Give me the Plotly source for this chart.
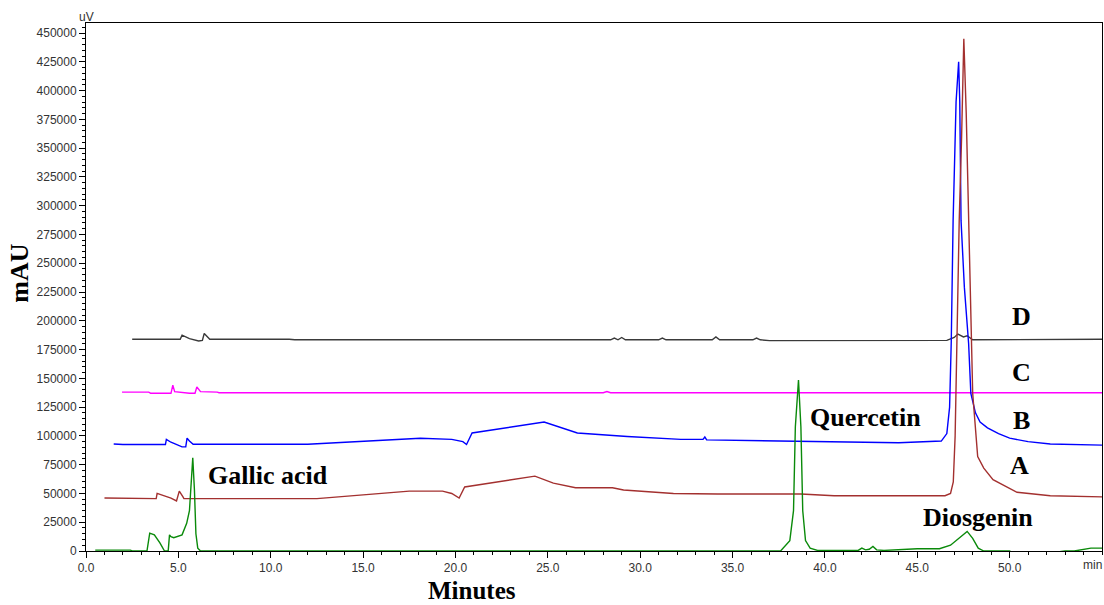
import plotly.graph_objects as go

# ---- data (minutes, uV) ----
D_t = [2.5, 5.1, 5.2, 5.6, 6.1, 6.3, 6.4, 6.7, 11.0, 11.3, 28.4, 28.6, 28.8, 29.0, 29.2,
       31.0, 31.2, 31.4, 33.9, 34.1, 34.3, 36.1, 36.3, 36.5, 37.0, 46.6, 47.0, 47.2, 47.5,
       47.7, 48.0, 55.0]
D_v = [184000, 184000, 187500, 184500, 182500, 183000, 189000, 184000, 184000, 183500, 183500,
       185000, 183500, 185500, 183500, 183500, 185000, 183500, 183500, 186000, 183500, 183500,
       185000, 183500, 182800, 183000, 185500, 188500, 186000, 187000, 183500, 184000]

C_t = [1.95, 3.4, 3.5, 4.6, 4.7, 4.8, 5.6, 5.9, 6.0, 6.2, 7.1, 7.2, 28.0, 28.2, 28.4,
       40.0, 55.0]
C_v = [138000, 138000, 137000, 137000, 144000, 138500, 137000, 137000, 142500, 138500,
       138000, 137500, 137500, 138500, 137500, 137500, 137500]

B_t = [1.5, 2.0, 4.3, 4.35, 4.6, 5.2, 5.4, 5.47, 5.6, 5.8, 12.0, 15.9, 18.1, 19.8, 20.4,
       20.6, 20.9, 24.8, 25.7, 26.6, 29.3, 30.7, 32.2, 33.4, 33.5, 33.6, 38.7, 44.0, 46.3,
       46.6, 46.75, 46.84, 46.94, 47.1, 47.24, 47.3, 47.37, 47.55, 47.78, 47.9, 48.15, 48.4,
       48.8, 49.4, 50.0, 51.0, 52.2, 55.0]
B_v = [93000, 92500, 92500, 97000, 94500, 90500, 90500, 98000, 95500, 92800, 92800, 96400,
       98000, 97000, 95000, 92500, 102500, 112000, 107000, 102500, 99500, 98500, 97000, 97000,
       99000, 96500, 95500, 94000, 95500, 102000, 125000, 182000, 287000, 390000, 425000,
       390000, 287000, 229000, 180000, 137000, 120000, 112000, 107000, 102000, 98000, 95000,
       93000, 92000]

A_t = [1.0, 2.9, 3.0, 3.8, 3.85, 4.1, 4.6, 4.9, 5.0, 5.05, 5.25, 5.3, 12.5, 15.9, 17.5,
       19.3, 19.8, 20.2, 20.5, 24.3, 25.3, 26.5, 28.5, 29.1, 30.0, 31.8, 34.2, 38.7, 40.5,
       46.5, 46.8, 46.95, 47.05, 47.13, 47.27, 47.4, 47.52, 47.65, 47.79, 47.85, 47.92, 48.0,
       48.27, 48.6, 49.1, 50.4, 52.2, 55.0]
A_v = [46000, 46000, 45500, 45500, 50000, 48500, 46000, 43500, 50000, 52000, 47000, 45500,
       45500, 49500, 52000, 52000, 50000, 46000, 55600, 65000, 59000, 55000, 55000, 53000,
       52000, 50000, 49500, 49500, 48000, 48000, 50000, 60000, 100000, 182000, 287000,
       360000, 445000, 380000, 287000, 235000, 182000, 137000, 82000, 72000, 62000, 51000,
       48000, 47000]

G_t = [0.5, 2.4, 2.5, 3.3, 3.45, 3.55, 3.7, 4.0, 4.25, 4.45, 4.52, 4.6, 4.75, 5.2, 5.45,
       5.6, 5.7, 5.78, 5.87, 5.95, 6.05, 6.2, 37.6, 38.1, 38.3, 38.4, 38.57, 38.7, 38.8,
       38.95, 39.2, 39.6, 40.0, 41.8, 42.0, 42.2, 42.4, 42.6, 42.8, 43.2, 45.0, 46.2, 46.8,
       47.3, 47.7, 48.0, 48.3, 48.6, 50.0, 50.1, 52.5, 53.0, 53.5, 54.4, 55.0]
G_v = [800, 800, 0, 0, 15500, 15000, 14000, 7000, 0, 0, 14000, 12500, 11500, 14000, 24000,
       35000, 60000, 81000, 53000, 15000, 2500, 0, 0, 9000, 35000, 108000, 148500, 108000,
       35000, 9000, 2500, 500, 500, 500, 2500, 1000, 1500, 4000, 1000, 500, 2000, 2000, 5000,
       12000, 17000, 11000, 2500, 0, 0, -1000, -1000, 0, 0, 2500, 2500]

series = [("D", D_t, D_v, "#3a3a3a"), ("C", C_t, C_v, "#ff00ff"),
          ("B", B_t, B_v, "#0000ff"), ("A", A_t, A_v, "#a3302f"),
          ("Std", G_t, G_v, "#0a8a0a")]

x_tickvals = [0, 5, 10, 15, 20, 25, 30, 35, 40, 45, 50]
x_ticktext = ["0.0", "5.0", "10.0", "15.0", "20.0", "25.0", "30.0", "35.0", "40.0", "45.0", "50.0"]
y_tickvals = list(range(0, 450001, 25000))

peak_labels = [("Gallic acid", 9.83, 66000), ("Quercetin", 42.2, 116400), ("Diosgenin", 48.3, 28700)]
trace_labels = [("D", 50.65, 204000), ("C", 50.65, 155500), ("B", 50.65, 113000), ("A", 50.55, 74700)]

fig = go.Figure()
for name, t, v, col in series:
    fig.add_trace(go.Scatter(x=t, y=v, mode="lines", name=name,
                             line=dict(color=col, width=1.4), showlegend=False))

serif = "Liberation Serif, Times New Roman, serif"
for txt, x, y in peak_labels + trace_labels:
    fig.add_annotation(x=x, y=y, xref="x", yref="y", text="<b>%s</b>" % txt, showarrow=False,
                       font=dict(family=serif, size=26, color="black"),
                       xanchor="center", yanchor="middle")

fig.add_annotation(x=0.38, y=-0.074, xref="paper", yref="paper", text="<b>Minutes</b>",
                   showarrow=False, font=dict(family=serif, size=25, color="black"),
                   xanchor="center", yanchor="middle")
fig.add_annotation(x=-0.065, y=0.527, xref="paper", yref="paper", text="<b>mAU</b>",
                   showarrow=False, textangle=-90,
                   font=dict(family=serif, size=26, color="black"),
                   xanchor="center", yanchor="middle")
fig.add_annotation(x=0.0, y=1.012, xref="paper", yref="paper", text="uV", showarrow=False,
                   font=dict(family="Liberation Sans, Arial", size=12, color="#333333"),
                   xanchor="center", yanchor="middle")
fig.add_annotation(x=1.002, y=-0.0265, xref="paper", yref="paper", text="min", showarrow=False,
                   font=dict(family="Liberation Sans, Arial", size=12, color="#333333"),
                   xanchor="right", yanchor="middle")

fig.update_xaxes(range=[0, 55], showgrid=False, zeroline=False, showline=True, linecolor="black",
                 linewidth=1, mirror=True, ticks="outside", ticklen=6, tickcolor="black",
                 tickvals=x_tickvals, ticktext=x_ticktext,
                 tickfont=dict(family="Liberation Sans, Arial", size=12, color="#333333"),
                 minor=dict(dtick=1, ticks="outside", ticklen=3, tickcolor="black"))
fig.update_yaxes(range=[0, 458700], showgrid=False, zeroline=False, showline=True, linecolor="black",
                 linewidth=1, mirror=True, ticks="outside", ticklen=6, tickcolor="black",
                 tickvals=y_tickvals, tickformat="d",
                 tickfont=dict(family="Liberation Sans, Arial", size=12, color="#333333"),
                 minor=dict(dtick=5000, tick0=0, ticks="outside", ticklen=3, tickcolor="black"))

fig.update_layout(width=1104, height=605, margin=dict(l=86, r=2, t=23, b=54),
                  plot_bgcolor="white", paper_bgcolor="white")

fig.write_html("out.html")
